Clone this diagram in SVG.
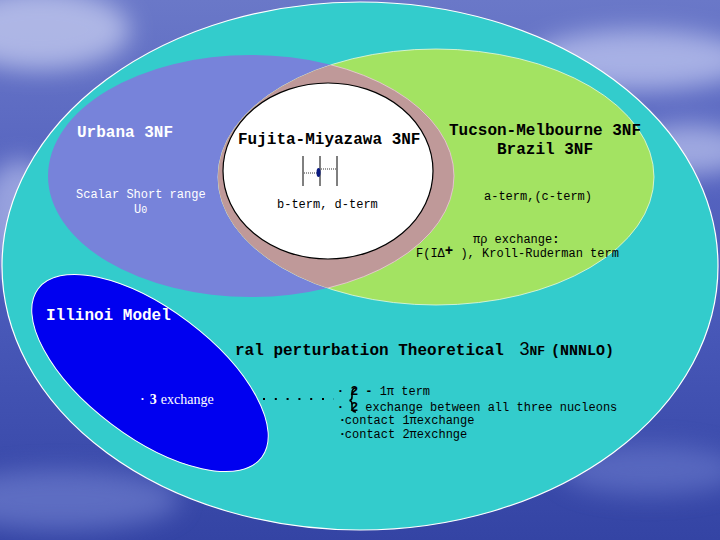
<svg xmlns="http://www.w3.org/2000/svg" width="720" height="540" viewBox="0 0 720 540">
<defs>
<linearGradient id="bg" x1="0" y1="0" x2="0" y2="1">
<stop offset="0" stop-color="#6a78c8"/>
<stop offset="0.35" stop-color="#5563bf"/>
<stop offset="0.6" stop-color="#4858b8"/>
<stop offset="1" stop-color="#3444a4"/>
</linearGradient>
<filter id="blur" x="-50%" y="-50%" width="200%" height="200%"><feGaussianBlur stdDeviation="12"/></filter>
<clipPath id="greenClip"><ellipse cx="436" cy="177" rx="218" ry="128"/></clipPath>
<style>
.mono{font-family:"Liberation Mono","Courier New",monospace}
.b{font-weight:bold}
.s16{font-size:16px}
.s12{font-size:12px}
.w{fill:#ffffff}
.k{fill:#000000}
.serif{font-family:"Liberation Serif","Times New Roman",serif}
</style>
</defs>
<rect width="720" height="540" fill="url(#bg)"/>
<g filter="url(#blur)" opacity="0.55">
<ellipse cx="40" cy="30" rx="90" ry="40" fill="#e8ecff"/>
<ellipse cx="640" cy="60" rx="110" ry="30" fill="#dfe4ff"/>
<ellipse cx="690" cy="150" rx="60" ry="25" fill="#d8defa"/>
<ellipse cx="20" cy="220" rx="40" ry="60" fill="#cfd6f8"/>
<ellipse cx="60" cy="500" rx="120" ry="30" fill="#7d8cd8"/>
<ellipse cx="650" cy="470" rx="90" ry="25" fill="#6f80d0"/>
</g>

<g id="chiral">
<ellipse cx="360" cy="266" rx="358" ry="264" fill="#33cccc" stroke="#ffffff" stroke-width="1.2"/>
</g>

<g id="urbana">
<ellipse cx="251" cy="176" rx="203" ry="121" fill="#7783da"/>
</g>

<g id="tucson">
<ellipse cx="436" cy="177" rx="218" ry="128" fill="#a3e362" stroke="#e8f8e0" stroke-width="0.8"/>
</g>

<g id="overlap">
<ellipse cx="251" cy="176" rx="203" ry="121" fill="#bf9999" stroke="#f0c8e0" stroke-width="0.8" clip-path="url(#greenClip)"/>
</g>

<g id="fujita">
<ellipse cx="328" cy="171" rx="105" ry="88" fill="#ffffff" stroke="#000000" stroke-width="1.2"/>
<text class="mono b s16 k" x="238" y="144">Fujita-Miyazawa 3NF</text>
<g stroke="#000000" stroke-width="1">
<line x1="303" y1="156" x2="303" y2="186"/>
<line x1="320" y1="156" x2="320" y2="186"/>
<line x1="337" y1="156" x2="337" y2="186"/>
</g>
<g stroke="#000000" stroke-width="0.8" stroke-dasharray="1,1">
<line x1="304" y1="173" x2="318" y2="173"/>
<line x1="321" y1="169" x2="336" y2="169"/>
</g>
<ellipse cx="318.5" cy="172.5" rx="2" ry="4.5" fill="#0a1a80"/>
<text class="mono s12 k" x="277" y="208">b-term, d-term</text>
</g>

<g id="urbana-text">
<text class="mono b s16 w" x="77" y="137">Urbana 3NF</text>
<text class="mono s12 w" x="76" y="198">Scalar Short range</text>
<text class="mono s12 w" x="134" y="213">U<tspan font-size="10">0</tspan></text>
</g>

<g id="tucson-text">
<text class="mono b s16 k" x="545" y="135" text-anchor="middle">Tucson-Melbourne 3NF</text>
<text class="mono b s16 k" x="545" y="154" text-anchor="middle">Brazil 3NF</text>
<text class="mono s12 k" x="484" y="200">a-term,(c-term)</text>
<text class="mono s12 k" x="473" y="243">πρ exchange<tspan font-weight="bold">:</tspan></text>
<text class="mono s12 k" x="416" y="257">F(IΔ<tspan font-weight="bold" font-size="14" dy="-2">+</tspan><tspan dy="2"> ), Kroll-Ruderman term</tspan></text>
</g>

<g id="chiral-text">
<text class="mono b s16 k" x="235" y="355">ral perturbation Theoretical <tspan font-family="Liberation Sans, Arial, sans-serif" font-size="18" font-weight="normal" dx="6">3</tspan><tspan font-size="13">NF</tspan><tspan font-size="15" dx="6">(NNNLO)</tspan></text>
<g class="mono s12 k">
<text x="338" y="395"><tspan font-size="8" dy="-2">•</tspan><tspan dy="2" font-family="Liberation Sans, Arial, sans-serif" font-weight="bold" font-size="13" dx="8">2</tspan><tspan font-weight="bold"> -</tspan> 1π term</text>
<text x="338" y="411"><tspan font-size="8" dy="-2">•</tspan><tspan dy="2" font-family="Liberation Sans, Arial, sans-serif" font-weight="bold" font-size="13" dx="8">2</tspan> exchange between all three nucleons</text>
<text x="340" y="424"><tspan font-size="8" dy="-2">•</tspan><tspan dy="2">contact 1πexchange</tspan></text>
<text x="340" y="438"><tspan font-size="8" dy="-2">•</tspan><tspan dy="2">contact 2πexchnge</tspan></text>
</g>
<path d="M356,388 Q352,388 352,393 L352,397 Q352,400 349.5,400.5 Q352,401 352,404 L352,408 Q352,412 356,412" fill="none" stroke="#000000" stroke-width="1.6"/>
</g>

<g id="connectors">
<line x1="263" y1="399" x2="334" y2="399" stroke="#000000" stroke-width="2" stroke-dasharray="2,9.8"/>
</g>

<g id="illinois">
<ellipse cx="150" cy="373" rx="140" ry="64" transform="rotate(37 150 373)" fill="#0000f0" stroke="#ffffff" stroke-width="1"/>
<text class="mono b s16 w" x="46" y="320">Illinoi Model</text>
<text class="serif w" x="141" y="404" font-size="14"><tspan font-size="8" dy="-2">•</tspan><tspan dy="2" font-weight="bold" dx="6">3</tspan><tspan dx="4">exchange</tspan></text>
</g>
</svg>
